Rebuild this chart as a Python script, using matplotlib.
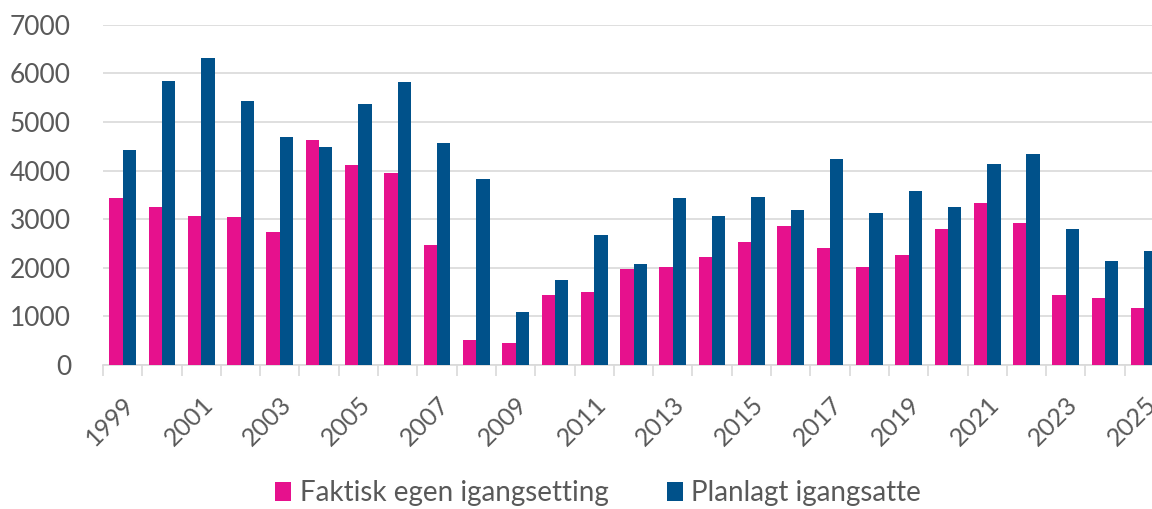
import numpy as np
import matplotlib
matplotlib.use("Agg")
import matplotlib.pyplot as plt
from matplotlib.ticker import FixedLocator, NullFormatter

years = list(range(1999, 2026))
faktisk = [3430, 3245, 3065, 3040, 2735, 4635, 4120, 3945, 2460, 510, 445,
           1440, 1500, 1980, 2015, 2220, 2525, 2860, 2405, 2015, 2255, 2800,
           3340, 2920, 1440, 1380, 1165]
planlagt = [4425, 5845, 6325, 5425, 4700, 4485, 5365, 5815, 4575, 3820, 1085,
            1740, 2675, 2070, 3430, 3065, 3455, 3190, 4240, 3130, 3580, 3250,
            4130, 4335, 2800, 2135, 2345]
labels = ["Faktisk egen igangsetting", "Planlagt igangsatte"]
colors = ["#E6118D", "#00518A"]

plt.rcParams['font.family'] = ['Lato', 'DejaVu Sans']

W, H = 1152, 509
fig = plt.figure(figsize=(W / 100, H / 100), dpi=100)
# plot area: x 103..1164 px (right end cropped by figure), y 24.7..365 px
left, right = 103, 1164
top, bottom = 24.7, 365
ax = fig.add_axes([left / W, 1 - bottom / H, (right - left) / W, (bottom - top) / H])

x = np.arange(len(years))
bw = 0.34
ax.bar(x - bw / 2, faktisk, bw, color=colors[0], label=labels[0], zorder=3)
ax.bar(x + bw / 2, planlagt, bw, color=colors[1], label=labels[1], zorder=3)

ax.set_xlim(-0.5, len(years) - 0.5)
ax.set_ylim(0, 7000)
ax.set_yticks(range(0, 7001, 1000))
ax.grid(axis='y', color='#d9d9d9', linewidth=1.2, zorder=0)

for s in ['top', 'right', 'left']:
    ax.spines[s].set_visible(False)
ax.spines['bottom'].set_color('#d9d9d9')
ax.spines['bottom'].set_linewidth(1.2)

ax.tick_params(axis='y', length=0, pad=23, labelsize=19, labelcolor='#595959')

# tick marks at category boundaries, labels every other year
ax.xaxis.set_major_locator(FixedLocator(np.arange(-0.5, len(years), 1)))
ax.xaxis.set_major_formatter(NullFormatter())
ax.tick_params(axis='x', which='major', length=8, width=1.2, color='#d9d9d9')
ax.xaxis.set_minor_locator(FixedLocator(x[::2]))
ax.set_xticklabels([str(y) for y in years[::2]], minor=True)
ax.tick_params(axis='x', which='minor', length=0, pad=20, labelsize=18,
               labelcolor='#595959')
for t in ax.get_xticklabels(minor=True):
    t.set_rotation(45)
    t.set_ha('right')
    t.set_rotation_mode('anchor')

leg = fig.legend(loc='center', bbox_to_anchor=(598 / W, 1 - 493 / H), ncol=2,
                 frameon=False, fontsize=20, handlelength=0.58, handleheight=0.7,
                 columnspacing=2.1, handletextpad=0.3)
for t in leg.get_texts():
    t.set_color('#595959')

fig.savefig("out.png", dpi=100)
